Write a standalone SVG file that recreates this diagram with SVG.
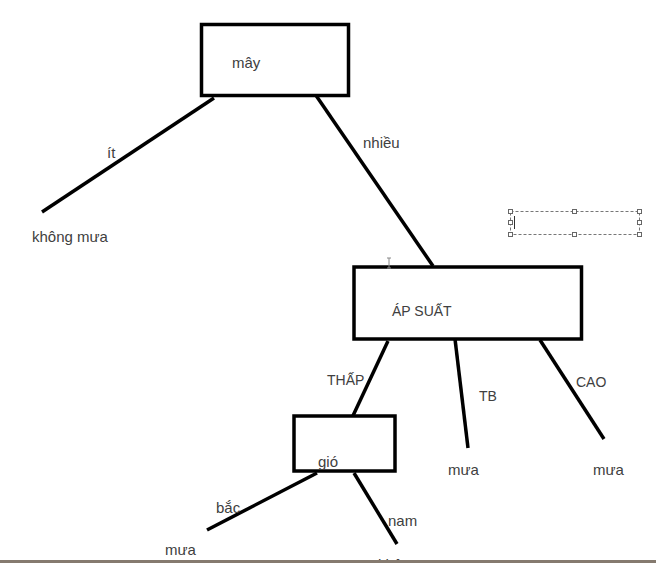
<svg xmlns="http://www.w3.org/2000/svg" width="656" height="563" viewBox="0 0 656 563">
<style>
.box{fill:#fff;stroke:#000;stroke-width:3.5}
.edge{stroke:#000;stroke-width:3.5;stroke-linecap:butt;fill:none}
.t{font-family:"Liberation Sans",Arial,sans-serif;font-size:15px;fill:#404040}
.c{font-family:"Liberation Sans",Arial,sans-serif;font-size:14px;fill:#404040}
.sel{fill:none;stroke:#777;stroke-width:1;stroke-dasharray:3,2}
.h{fill:#fff;stroke:#666;stroke-width:1}
</style>
<rect width="656" height="563" fill="#fff"/>
<g id="connectors">
<line class="edge" x1="214" y1="98" x2="42" y2="212"/>
<line class="edge" x1="315" y1="94" x2="433" y2="266"/>
<line class="edge" x1="388" y1="341" x2="351" y2="420"/>
<line class="edge" x1="455" y1="339" x2="468" y2="448"/>
<line class="edge" x1="540" y1="340" x2="604" y2="439"/>
<line class="edge" x1="317" y1="473" x2="207" y2="530"/>
<line class="edge" x1="354" y1="473" x2="397" y2="544"/>
<text class="t" x="107" y="158">ít</text>
<text class="t" x="363" y="148">nhiều</text>
<text class="c" x="327" y="385">THẤP</text>
<text class="c" x="479" y="401">TB</text>
<text class="c" x="576" y="387">CAO</text>
<text class="t" x="216" y="513">bắc</text>
<text class="t" x="388" y="526">nam</text>
</g>
<g id="node-may">
<rect class="box" x="201.5" y="24.5" width="147" height="71"/>
<text class="t" x="232" y="68">mây</text>
</g>
<g id="node-khong-mua">
<text class="t" x="32" y="242">không mưa</text>
</g>
<g id="node-ap-suat">
<rect class="box" x="354" y="267" width="227.5" height="72"/>
<text class="c" x="392" y="316">ÁP SUẤT</text>
</g>
<g id="node-gio">
<rect class="box" x="294" y="416" width="101" height="55"/>
<text class="t" x="318" y="467">gió</text>
</g>
<g id="node-mua-tb">
<text class="t" x="448" y="475">mưa</text>
</g>
<g id="node-mua-cao">
<text class="t" x="593" y="475">mưa</text>
</g>
<g id="node-mua-bac">
<text class="t" x="165" y="555">mưa</text>
</g>
<g id="node-khong-mua-nam">
<text class="t" x="378" y="570">không mưa</text>
</g>
<g id="selection">
<rect class="sel" x="510.5" y="211.5" width="129" height="23"/>
<rect class="h" x="508.5" y="209.5" width="4" height="4"/>
<rect class="h" x="572.5" y="209.5" width="4" height="4"/>
<rect class="h" x="637.5" y="209.5" width="4" height="4"/>
<rect class="h" x="508.5" y="220.5" width="4" height="4"/>
<rect class="h" x="637.5" y="220.5" width="4" height="4"/>
<rect class="h" x="508.5" y="232.5" width="4" height="4"/>
<rect class="h" x="572.5" y="232.5" width="4" height="4"/>
<rect class="h" x="637.5" y="232.5" width="4" height="4"/>
<line x1="514.5" y1="216" x2="514.5" y2="229" stroke="#333" stroke-width="1"/>
</g>
<g id="cursor" stroke="#888" stroke-width="1" fill="none">
<path d="M387 258h4M389 258v10M387 268h4"/>
</g>
<rect x="0" y="560" width="656" height="3" fill="#857a6f"/>
</svg>
